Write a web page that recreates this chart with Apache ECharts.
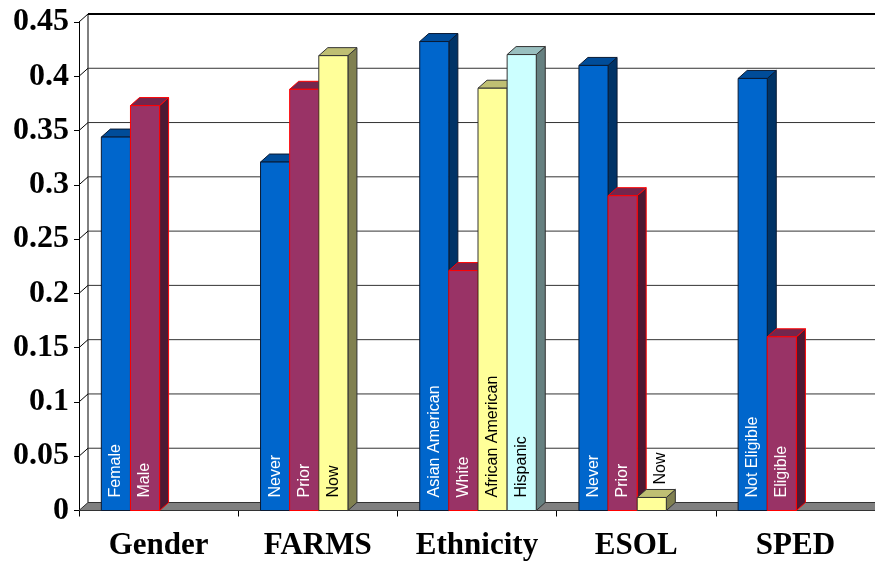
<!DOCTYPE html>
<html>
<head>
<meta charset="utf-8">
<title>Group comparison</title>
<script src="https://cdn.jsdelivr.net/npm/echarts@6/dist/echarts.min.js"></script>
<style>
  html, body { margin: 0; padding: 0; background: #ffffff; }
  #chart { width: 875px; height: 564px; }
</style>
</head>
<body>
<div id="chart"></div>
<script>
// Groups along the category axis
const categories = ['Gender', 'FARMS', 'Ethnicity', 'ESOL', 'SPED'];

// Four bar series, one slot per bar position inside each group (null = no bar)
const series1Values = [0.344, 0.321, 0.432, 0.410, 0.398];
const series1Labels = ['Female', 'Never', 'Asian American', 'Never', 'Not Eligible'];

const series2Values = [0.373, 0.388, 0.221, 0.290, 0.160];
const series2Labels = ['Male', 'Prior', 'White', 'Prior', 'Eligible'];

const series3Values = [null, 0.419, 0.389, 0.012, null];
const series3Labels = ['', 'Now', 'African American', 'Now', ''];

const series4Values = [null, null, 0.420, null, null];
const series4Labels = ['', '', 'Hispanic', '', ''];

// Value-axis ticks, also used for the gridlines on the back wall
const yTicks = [0, 0.05, 0.1, 0.15, 0.2, 0.25, 0.3, 0.35, 0.4, 0.45];

// Depth of the pseudo-3D box (screen offset of the back plane)
const DX = 9, DY = 8;

const palettes = [
  { front: '#0066CC', side: '#003366', top: '#004C99', edge: '#0a1a33', text: '#ffffff' },
  { front: '#993366', side: '#4D1933', top: '#73264D', edge: '#ff0000', text: '#ffffff' },
  { front: '#FFFF99', side: '#808050', top: '#BFBF73', edge: '#333333', text: '#000000' },
  { front: '#CCFFFF', side: '#668080', top: '#99BFBF', edge: '#333333', text: '#000000' }
];

function toData(values) {
  const out = [];
  values.forEach(function (v, i) { if (v != null) out.push([i, v]); });
  return out;
}

// Back wall gridlines, side-wall slants and the floor
function renderWall(params, api) {
  const v = api.value(1);
  const cs = params.coordSys;
  const left = cs.x;
  const right = cs.x + cs.width + 20;
  const y = api.coord([0, v])[1];
  const children = [];
  if (v === 0) {
    const yTop = api.coord([0, yTicks[yTicks.length - 1]])[1];
    children.push({
      type: 'line',
      shape: { x1: left + DX, y1: yTop - DY, x2: left + DX, y2: y - DY },
      style: { stroke: '#000000', lineWidth: 1 }
    });
    children.push({
      type: 'polygon',
      shape: { points: [[left, y], [left + DX, y - DY], [right, y - DY], [right, y]] },
      style: { fill: '#808080', stroke: '#333333', lineWidth: 1 }
    });
  } else {
    const top = v === yTicks[yTicks.length - 1];
    children.push({
      type: 'line',
      shape: { x1: left + DX, y1: y - DY, x2: right, y2: y - DY },
      style: { stroke: top ? '#000000' : '#333333', lineWidth: top ? 2 : 1 }
    });
    children.push({
      type: 'line',
      shape: { x1: left, y1: y, x2: left + DX, y2: y - DY },
      style: { stroke: '#000000', lineWidth: 1 }
    });
  }
  return { type: 'group', children: children };
}

function makeBarRenderer(slot, labels) {
  const pal = palettes[slot];
  return function (params, api) {
    const i = api.value(0);
    const v = api.value(1);
    const base = api.coord([i, 0]);
    const topPt = api.coord([i, v]);
    const band = api.size([1, 0])[0];
    const w = band * 0.183;
    const x0 = base[0] - 2 * w + slot * w + 1;
    const x1 = x0 + w;
    const yb = base[1];
    const yt = topPt[1];
    const children = [
      {
        type: 'polygon',
        shape: { points: [[x1, yb], [x1 + DX, yb - DY], [x1 + DX, yt - DY], [x1, yt]] },
        style: { fill: pal.side, stroke: pal.edge, lineWidth: 1 }
      },
      {
        type: 'polygon',
        shape: { points: [[x0, yt], [x1, yt], [x1 + DX, yt - DY], [x0 + DX, yt - DY]] },
        style: { fill: pal.top, stroke: pal.edge, lineWidth: 1 }
      },
      {
        type: 'rect',
        shape: { x: x0, y: yt, width: w, height: yb - yt },
        style: { fill: pal.front, stroke: pal.edge, lineWidth: 1 }
      }
    ];
    const name = labels[i];
    if (name) {
      const inside = (yb - yt) > 60;
      children.push({
        type: 'text',
        x: inside ? (x0 + x1) / 2 : (x0 + x1) / 2 + DX,
        y: inside ? yb - 13 : yt - DY - 5,
        rotation: Math.PI / 2,
        style: {
          text: name,
          fill: inside ? pal.text : '#000000',
          fontFamily: '"Liberation Sans", Arial, sans-serif',
          fontSize: 16,
          align: 'left',
          verticalAlign: 'middle'
        }
      });
    }
    return { type: 'group', children: children };
  };
}

const valueSets = [series1Values, series2Values, series3Values, series4Values];
const labelSets = [series1Labels, series2Labels, series3Labels, series4Labels];

const chart = echarts.init(document.getElementById('chart'), null, { renderer: 'canvas' });

const series = [{
  type: 'custom',
  name: 'wall',
  renderItem: renderWall,
  data: yTicks.map(function (v) { return [0, v]; }),
  encode: { x: 0, y: 1 },
  silent: true,
  z: 1
}];
valueSets.forEach(function (vals, k) {
  series.push({
    type: 'custom',
    name: 'Series ' + (k + 1),
    renderItem: makeBarRenderer(k, labelSets[k]),
    data: toData(vals),
    encode: { x: 0, y: 1 },
    z: 2 + k
  });
});

chart.setOption({
  animation: false,
  backgroundColor: '#ffffff',
  grid: { left: 79, top: 22, width: 800, bottom: 53.5, containLabel: false },
  xAxis: {
    type: 'category',
    data: categories,
    boundaryGap: true,
    axisLine: { show: true, lineStyle: { color: '#000000', width: 1 } },
    axisTick: { show: true, interval: 0, alignWithLabel: false, length: 6, lineStyle: { color: '#000000' } },
    axisLabel: {
      interval: 0,
      margin: 20,
      color: '#000000',
      fontFamily: '"Liberation Serif", "Times New Roman", serif',
      fontWeight: 'bold',
      fontSize: 31
    },
    splitLine: { show: false }
  },
  yAxis: {
    type: 'value',
    min: 0,
    max: 0.45,
    interval: 0.05,
    axisLine: { show: true, lineStyle: { color: '#000000', width: 1 } },
    axisTick: { show: true, length: 5, lineStyle: { color: '#000000' } },
    axisLabel: {
      margin: 10,
      color: '#000000',
      fontFamily: '"Liberation Serif", "Times New Roman", serif',
      fontWeight: 'bold',
      fontSize: 32
    },
    splitLine: { show: false }
  },
  series: series
});
</script>
</body>
</html>
